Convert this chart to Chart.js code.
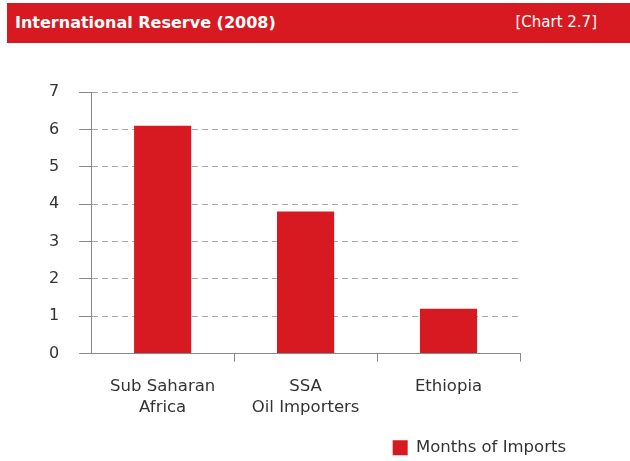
<!DOCTYPE html>
<html>
<head>
<meta charset="utf-8">
<script src="https://cdn.jsdelivr.net/npm/chart.js@4/dist/chart.umd.min.js"></script>
<style>
  body { margin: 0; background: #fff; }
  #wrap { position: relative; width: 630px; height: 461px; }
  #header {
    position: absolute; left: 7px; top: 3px; width: 623px; height: 40px;
    background: #d71a21; color: #fff; font-family: "DejaVu Sans", sans-serif;
  }
  #header .t { position: absolute; left: 8px; top: 10px; font-size: 16px; font-weight: bold; }
  #header .n { position: absolute; right: 33px; top: 10px; font-size: 15px; }
  #chart { position: absolute; left: 0; top: 0; }
</style>
</head>
<body>
<div id="wrap">
  <canvas id="chart" width="630" height="461"></canvas>
  <div id="header"><span class="t">International Reserve (2008)</span><span class="n">[Chart 2.7]</span></div>
</div>
<script>
var categorias = [["Sub Saharan", "Africa"], ["SSA", "Oil Importers"], "Ethiopia"];
var meses_importacion = [6.1, 3.8, 1.2];
var etiqueta_serie = "Months of Imports";
var rojo = "#d71a21";

// move the legend under the last bar, a little lower
var legendShift = {
    id: 'legendShift',
    afterLayout: function(chart){
        var lg = chart.legend;
        lg.right = 568;
        lg.top += 5;
        lg.bottom += 5;
    }
};

var ctx = document.getElementById('chart').getContext('2d');
window.myBar = new Chart(ctx, {
    type: 'bar',
    data: {
        labels: categorias,
        datasets: [{
            label: etiqueta_serie,
            backgroundColor: rojo,
            borderWidth: 0,
            data: meses_importacion,
            categoryPercentage: 1,
            barPercentage: 0.4
        }]
    },
    plugins: [legendShift],
    options: {
        responsive: false,
        animation: false,
        layout: { padding: { top: 92, right: 110, bottom: 0, left: 29 } },
        plugins: {
            tooltip: { enabled: false },
            legend: {
                position: 'bottom',
                align: 'end',
                labels: {
                    boxWidth: 15, boxHeight: 15, padding: 2,
                    color: '#333',
                    font: { family: 'DejaVu Sans', size: 16.5 }
                }
            }
        },
        scales: {
            x: {
                grid: {
                    drawOnChartArea: false, drawTicks: true, tickLength: 8,
                    tickColor: function(c){ return c.index === 0 ? 'rgba(0,0,0,0)' : '#888'; }
                },
                border: { color: '#888' },
                ticks: {
                    color: '#333', padding: 14,
                    font: { family: 'DejaVu Sans', size: 16.5, lineHeight: 1.3 }
                }
            },
            y: {
                min: 0, max: 7,
                ticks: {
                    stepSize: 1, color: '#333', padding: 20,
                    font: { family: 'DejaVu Sans', size: 16 }
                },
                grid: {
                    color: '#a8a8a8', tickLength: 12,
                    tickBorderDash: [], tickColor: '#888'
                },
                border: { color: '#888', dash: [6, 4] }
            }
        }
    }
});
</script>
</body>
</html>
